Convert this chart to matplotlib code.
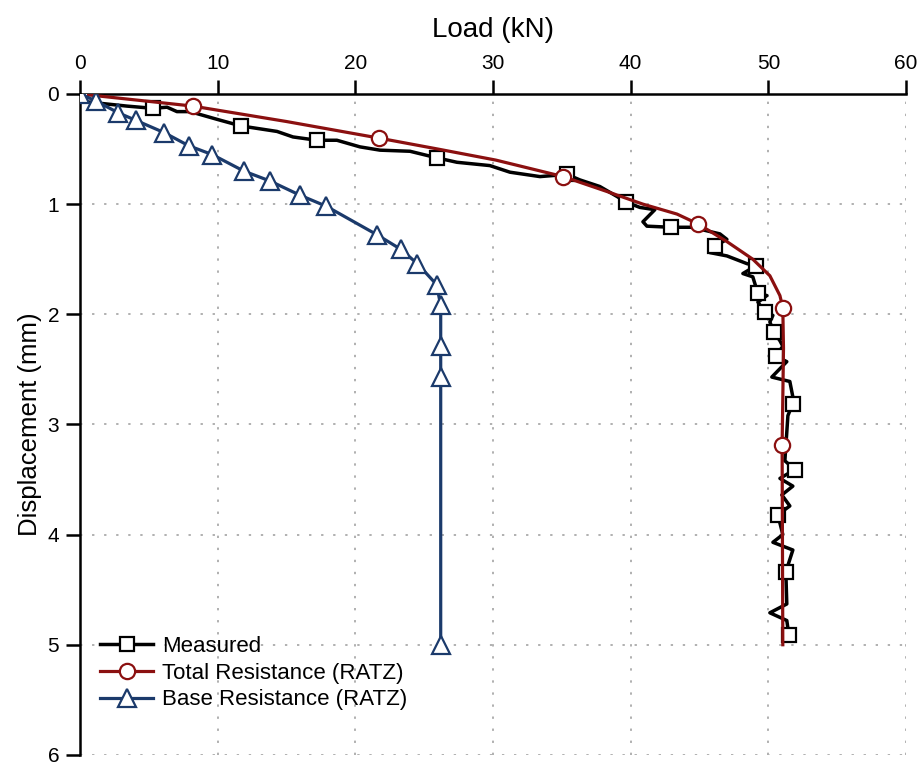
import numpy as np
import matplotlib.pyplot as plt

plt.rcParams['font.family'] = ['Liberation Sans', 'DejaVu Sans']

# measured load-displacement curve
meas_load = [0, 0.36, 3.41, 5.30, 6.32, 7.04, 7.99, 9.95, 11.69, 14.31, 15.47, 17.21, 18.66, 20.33,
             21.79, 23.97, 25.93, 27.38, 29.77, 31.23, 33.41, 35.37, 36.31, 37.76, 39.00, 39.65,
             40.67, 41.76, 40.89, 41.18, 42.92, 44.44, 46.48, 46.99, 46.12, 45.75, 46.99, 48.44,
             49.09, 48.15, 48.87, 49.24, 49.89, 49.24, 49.75, 50.33, 50.11, 50.40, 50.84, 51.05,
             50.54, 51.34, 50.25, 51.56, 51.78, 51.78, 51.42, 51.20, 51.92, 50.84, 51.78, 50.98,
             51.56, 50.69, 51.05, 50.33, 51.78, 51.42, 51.27, 51.34, 50.11, 51.34, 51.49, 51.34]
meas_disp = [0, 0.07, 0.11, 0.13, 0.12, 0.16, 0.16, 0.23, 0.29, 0.34, 0.39, 0.42, 0.42, 0.48,
             0.51, 0.52, 0.58, 0.62, 0.65, 0.71, 0.75, 0.73, 0.78, 0.84, 0.93, 0.98,
             1.03, 1.05, 1.16, 1.20, 1.21, 1.21, 1.27, 1.32, 1.38, 1.44, 1.47, 1.54,
             1.56, 1.63, 1.66, 1.81, 1.83, 1.89, 1.98, 2.01, 2.07, 2.16, 2.24, 2.29,
             2.38, 2.43, 2.57, 2.61, 2.75, 2.81, 2.92, 3.33, 3.41, 3.49, 3.56, 3.64,
             3.74, 3.82, 4.00, 4.07, 4.14, 4.28, 4.34, 4.63, 4.71, 4.78, 4.91, 4.96]
meas_marks = [0, 3, 8, 11, 16, 21, 25, 30, 34, 38, 41, 44, 47, 50, 55, 58, 63, 68, 72]

# total resistance (RATZ)
tot_load = [0, 8.2, 15.0, 21.7, 26.0, 30.2, 35.1, 38.27, 40.89, 43.36, 44.9, 46.99, 48.87,
            50.11, 50.84, 51.05, 51.1, 51.05, 51.0, 51.05]
tot_disp = [0, 0.11, 0.25, 0.40, 0.50, 0.60, 0.75, 0.885, 1.00, 1.09, 1.18, 1.34, 1.50,
            1.65, 1.83, 1.94, 2.31, 2.76, 3.19, 5.0]
tot_marks = [0, 1, 3, 6, 10, 15, 18]

# base resistance (RATZ)
base_load = [0, 1.16, 2.76, 4.07, 6.1, 7.9, 9.6, 11.9, 13.8, 16.0, 17.9, 21.6, 23.3, 24.5,
             25.9, 26.2, 26.2, 26.2, 26.2]
base_disp = [0, 0.063, 0.17, 0.24, 0.35, 0.47, 0.55, 0.70, 0.79, 0.92, 1.02, 1.28, 1.41, 1.54,
             1.73, 1.92, 2.29, 2.57, 5.0]

red = '#8b1010'
blue = '#1b3a6b'

fig = plt.figure(figsize=(9.23, 7.66), dpi=100)
ax = fig.add_axes([0.0867, 0.0145, 0.8949, 0.8628])

ax.plot(meas_load, meas_disp, '-', color='black', lw=2.5, marker='s', markevery=meas_marks,
        ms=9.5, mfc='white', mec='black', mew=1.6, label='Measured', zorder=3)
ax.plot(tot_load, tot_disp, '-', color=red, lw=2.3, marker='o', markevery=tot_marks,
        ms=11, mfc='white', mec=red, mew=1.6, label='Total Resistance (RATZ)', zorder=4)
ax.plot(base_load, base_disp, '-', color=blue, lw=2.3, marker='^', ms=12.5, mfc='white',
        mec=blue, mew=1.6, label='Base Resistance (RATZ)', zorder=5)

ax.set_xlim(0, 60)
ax.set_ylim(6, 0)
ax.set_xticks(np.arange(0, 61, 10))
ax.set_yticks(np.arange(0, 7, 1))
ax.xaxis.tick_top()
ax.xaxis.set_label_position('top')
ax.set_xlabel('Load (kN)', fontsize=20, labelpad=12)
ax.set_ylabel('Displacement (mm)', fontsize=18.5, labelpad=4)
ax.tick_params(axis='both', direction='out', length=10, width=1.8, labelsize=15, pad=5)

for s in ['right', 'bottom']:
    ax.spines[s].set_visible(False)
for s in ['top', 'left']:
    ax.spines[s].set_linewidth(1.8)

ax.grid(True, linestyle=(0, (1.2, 5)), color='#b0b0b0', lw=1.4)
ax.set_axisbelow(True)

ax.legend(loc='lower left', bbox_to_anchor=(0.0, 0.037), frameon=False, fontsize=16,
          handlelength=2.4, handletextpad=0.4, labelspacing=0.26, borderaxespad=0.5)

fig.savefig('out.png', dpi=100)
